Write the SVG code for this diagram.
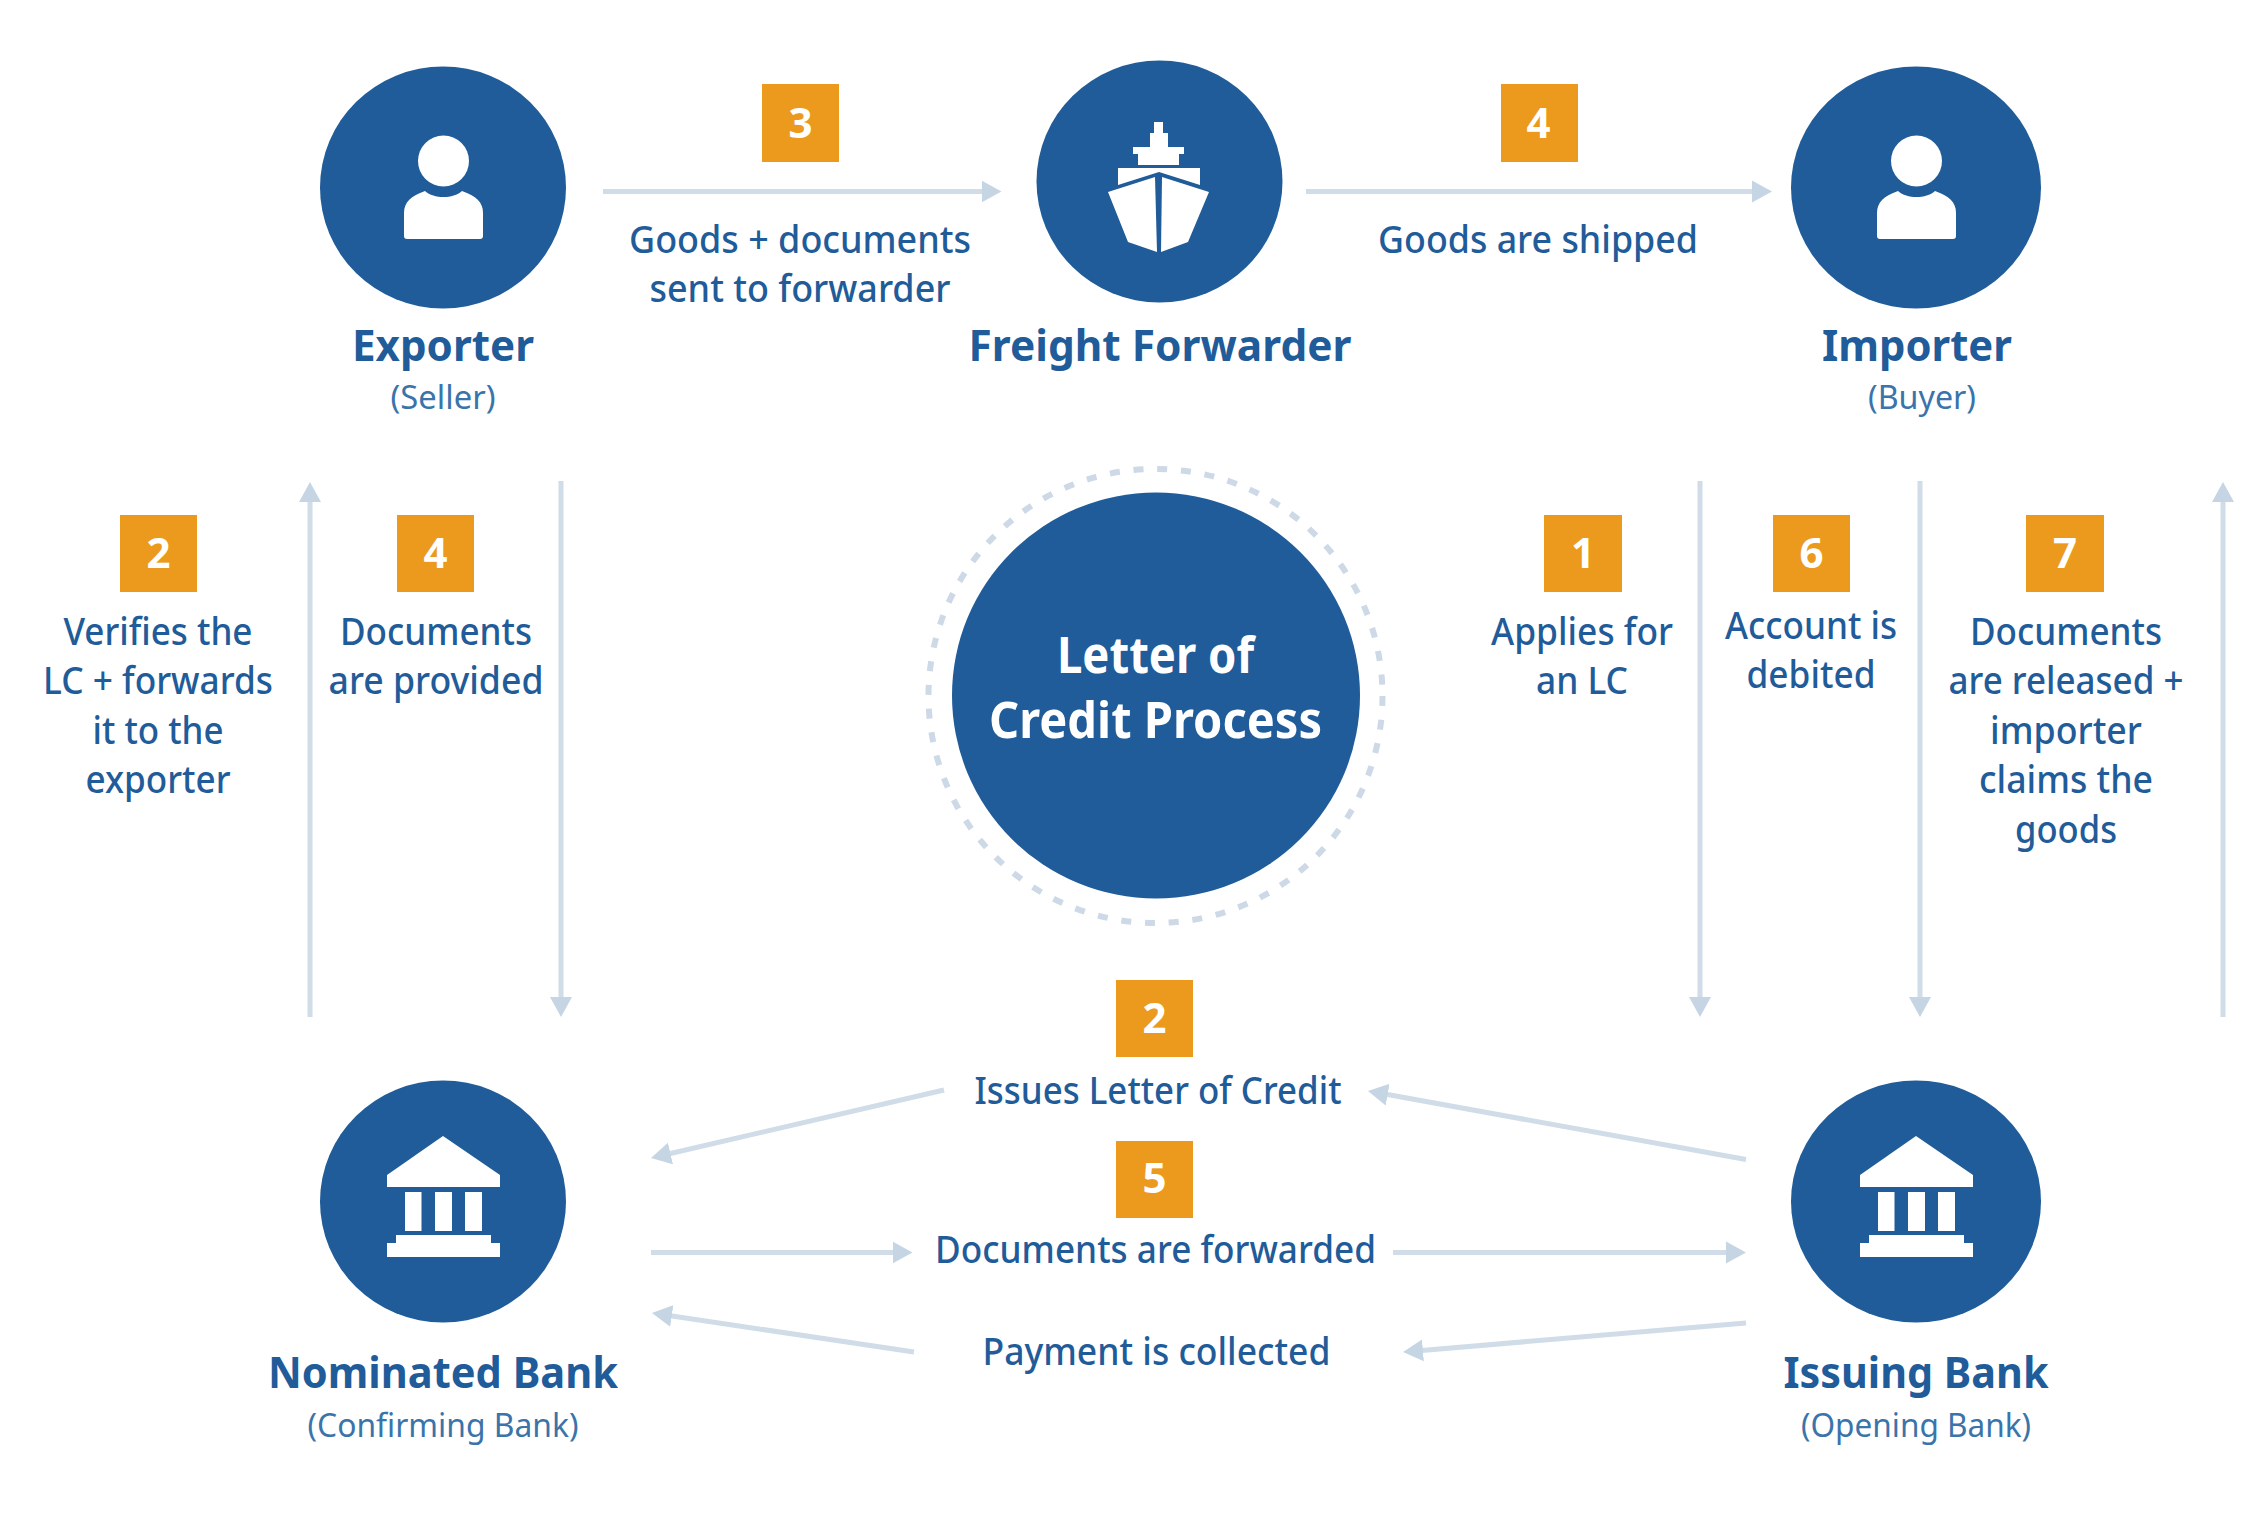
<svg xmlns="http://www.w3.org/2000/svg" xmlns:xlink="http://www.w3.org/1999/xlink" width="2250" height="1521" viewBox="0 0 2250 1521">
<style>
text{font-family:"Noto Sans","Open Sans","Liberation Sans",sans-serif;text-anchor:middle}
.c{fill:#1f5c99}
.w{fill:#fff}
.lb{fill:#1f5c99;font-size:38px;font-weight:500}
.tt{fill:#1f5c99;font-size:43px;font-weight:700}
.sb{fill:#3a74aa;font-size:33px}
.ct{fill:#fff;font-size:50px;font-weight:700}
.bx{fill:#ec9a1e}
.n{fill:#fff;font-size:42px;font-weight:700}
.a{stroke:#d0dce8;stroke-width:5;fill:none;marker-end:url(#ah)}
</style>
<defs>
<marker id="ah" markerUnits="userSpaceOnUse" markerWidth="22" markerHeight="24" refX="10" refY="12" orient="auto"><path d="M0 1L20 12L0 23Z" fill="#c6d5e4"/></marker>
<g id="person">
<path class="w" d="M404 236Q404 239 407 239H480Q483 239 483 236V213C483 202 476 196 462 191C453 199 434 199 425 191C411 196 404 202 404 213Z"/>
<ellipse class="w" cx="443.500" cy="161" rx="25.500" ry="25.500"/>
</g>
<g id="bank">
<path class="w" d="M443 1136L500 1175V1187H387V1175Z"/>
<path class="w" d="M405 1192H421.500V1231H405ZM435 1192H452V1231H435ZM465 1192H482V1231H465ZM396 1235H491V1243H500V1257H387V1243H396Z"/>
</g>
</defs>
<rect width="2250" height="1521" fill="#fff"/>
<g id="connectors">
<path class="a" d="M603 191.500H991.500"/>
<path class="a" d="M1306 191.500H1762"/>
<path class="a" d="M310 1017V492"/>
<path class="a" d="M561 481V1007"/>
<path class="a" d="M1700 481V1007"/>
<path class="a" d="M1920 481V1007"/>
<path class="a" d="M2223 1017V492"/>
<path class="a" d="M944 1090L660.700 1155.700"/>
<path class="a" d="M651 1252.500H902.500"/>
<path class="a" d="M914 1352L661.900 1314.500"/>
<path class="a" d="M1746 1159.500L1377.800 1092.800"/>
<path class="a" d="M1393 1252.500H1736"/>
<path class="a" d="M1746 1323L1413 1351.200"/>
</g>
<g id="exporter">
<ellipse class="c" cx="443" cy="187.500" rx="123" ry="121"/>
<use xlink:href="#person" href="#person"/>
<text class="tt" x="443" y="361" textLength="182" lengthAdjust="spacingAndGlyphs">Exporter</text>
<text class="sb" x="443" y="409" textLength="105" lengthAdjust="spacingAndGlyphs">(Seller)</text>
</g>
<g id="freight-forwarder">
<ellipse class="c" cx="1159.500" cy="181.500" rx="123" ry="121"/>
<path class="w" d="M1154 122H1163V133H1168V147H1184V154H1179V165H1138V154H1133V147H1150V133H1154Z"/>
<path class="w" d="M1118 168H1200V185L1159 172L1118 185Z"/>
<path class="w" d="M1108 192L1155 177L1157 252L1128 242Z"/>
<path class="w" d="M1209 192L1162 177L1161 252L1188 242Z"/>
<text class="tt" x="1160" y="361" textLength="383" lengthAdjust="spacingAndGlyphs">Freight Forwarder</text>
</g>
<g id="importer">
<ellipse class="c" cx="1916" cy="187.500" rx="125" ry="121"/>
<use xlink:href="#person" href="#person" x="1473"/>
<text class="tt" x="1917" y="361" textLength="190" lengthAdjust="spacingAndGlyphs">Importer</text>
<text class="sb" x="1922" y="409" textLength="108" lengthAdjust="spacingAndGlyphs">(Buyer)</text>
</g>
<g id="nominated-bank">
<ellipse class="c" cx="443" cy="1201.500" rx="123" ry="121"/>
<use xlink:href="#bank" href="#bank"/>
<text class="tt" x="443" y="1388" textLength="350" lengthAdjust="spacingAndGlyphs">Nominated Bank</text>
<text class="sb" x="443" y="1437" textLength="271" lengthAdjust="spacingAndGlyphs">(Confirming Bank)</text>
</g>
<g id="issuing-bank">
<ellipse class="c" cx="1916" cy="1201.500" rx="125" ry="121"/>
<use xlink:href="#bank" href="#bank" x="1473"/>
<text class="tt" x="1916" y="1388" textLength="265" lengthAdjust="spacingAndGlyphs">Issuing Bank</text>
<text class="sb" x="1916" y="1437" textLength="230" lengthAdjust="spacingAndGlyphs">(Opening Bank)</text>
</g>
<g id="center">
<circle cx="1155.500" cy="696" r="227" fill="none" stroke="#cdd9e6" stroke-width="6" stroke-dasharray="10 13.800"/>
<ellipse class="c" cx="1156" cy="695.500" rx="204" ry="203"/>
<text class="ct" x="1155.500" y="673" textLength="197" lengthAdjust="spacingAndGlyphs">Letter of</text>
<text class="ct" x="1155.500" y="738" textLength="333" lengthAdjust="spacingAndGlyphs">Credit Process</text>
</g>
<g id="step-3-forwarder">
<rect class="bx" x="762" y="84" width="77" height="78"/><text class="n" x="800.500" y="138">3</text>
<text class="lb" x="800" y="253" textLength="342" lengthAdjust="spacingAndGlyphs">Goods + documents</text>
<text class="lb" x="800" y="302" textLength="301" lengthAdjust="spacingAndGlyphs">sent to forwarder</text>
</g>
<g id="step-4-shipped">
<rect class="bx" x="1501" y="84" width="77" height="78"/><text class="n" x="1538.500" y="138">4</text>
<text class="lb" x="1538" y="253" textLength="320" lengthAdjust="spacingAndGlyphs">Goods are shipped</text>
</g>
<g id="step-2-verifies">
<rect class="bx" x="120" y="515" width="77" height="77"/><text class="n" x="158.500" y="568">2</text>
<text class="lb" x="158" y="645" textLength="189" lengthAdjust="spacingAndGlyphs">Verifies the</text>
<text class="lb" x="158" y="694" textLength="230" lengthAdjust="spacingAndGlyphs">LC + forwards</text>
<text class="lb" x="158" y="744" textLength="131" lengthAdjust="spacingAndGlyphs">it to the</text>
<text class="lb" x="158" y="793" textLength="145" lengthAdjust="spacingAndGlyphs">exporter</text>
</g>
<g id="step-4-documents">
<rect class="bx" x="397" y="515" width="77" height="77"/><text class="n" x="435.500" y="568">4</text>
<text class="lb" x="436" y="645" textLength="192" lengthAdjust="spacingAndGlyphs">Documents</text>
<text class="lb" x="436" y="694" textLength="215" lengthAdjust="spacingAndGlyphs">are provided</text>
</g>
<g id="step-1-applies">
<rect class="bx" x="1544" y="515" width="78" height="77"/><text class="n" x="1583" y="568">1</text>
<text class="lb" x="1582" y="645" textLength="182" lengthAdjust="spacingAndGlyphs">Applies for</text>
<text class="lb" x="1582" y="694" textLength="92" lengthAdjust="spacingAndGlyphs">an LC</text>
</g>
<g id="step-6-debited">
<rect class="bx" x="1773" y="515" width="77" height="77"/><text class="n" x="1811.500" y="568">6</text>
<text class="lb" x="1811" y="639" textLength="172" lengthAdjust="spacingAndGlyphs">Account is</text>
<text class="lb" x="1811" y="688" textLength="129" lengthAdjust="spacingAndGlyphs">debited</text>
</g>
<g id="step-7-released">
<rect class="bx" x="2026" y="515" width="78" height="77"/><text class="n" x="2065" y="568">7</text>
<text class="lb" x="2066" y="645" textLength="192" lengthAdjust="spacingAndGlyphs">Documents</text>
<text class="lb" x="2066" y="694" textLength="235" lengthAdjust="spacingAndGlyphs">are released +</text>
<text class="lb" x="2066" y="744" textLength="152" lengthAdjust="spacingAndGlyphs">importer</text>
<text class="lb" x="2066" y="793" textLength="174" lengthAdjust="spacingAndGlyphs">claims the</text>
<text class="lb" x="2066" y="843" textLength="102" lengthAdjust="spacingAndGlyphs">goods</text>
</g>
<g id="step-2-issues">
<rect class="bx" x="1116" y="980" width="77" height="77"/><text class="n" x="1154.500" y="1033">2</text>
<text class="lb" x="1158" y="1104" textLength="367" lengthAdjust="spacingAndGlyphs">Issues Letter of Credit</text>
</g>
<g id="step-5-forwarded">
<rect class="bx" x="1116" y="1141" width="77" height="77"/><text class="n" x="1154.500" y="1193">5</text>
<text class="lb" x="1155.500" y="1263" textLength="441" lengthAdjust="spacingAndGlyphs">Documents are forwarded</text>
</g>
<g id="payment">
<text class="lb" x="1156.500" y="1365" textLength="348" lengthAdjust="spacingAndGlyphs">Payment is collected</text>
</g>
</svg>
